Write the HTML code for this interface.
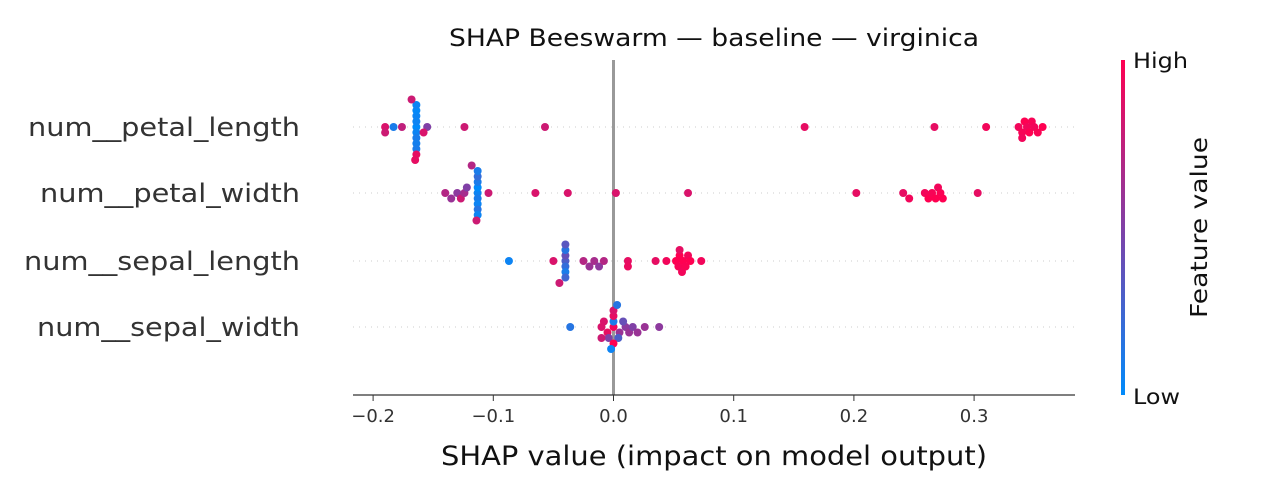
<!DOCTYPE html>
<html><head><meta charset="utf-8"><style>
body{margin:0;background:#fff;font-family:"DejaVu Sans","Liberation Sans",sans-serif}
svg text{font-family:"DejaVu Sans","Liberation Sans",sans-serif}
</style></head><body>
<svg id="c" width="1280" height="496" xmlns="http://www.w3.org/2000/svg">
<defs><linearGradient id="cb" x1="0" y1="1" x2="0" y2="0"><stop offset="0" stop-color="#008bfb"/><stop offset="0.5" stop-color="#8040a6"/><stop offset="1" stop-color="#ff0051"/></linearGradient></defs>
<text x="449" y="46" font-size="24" textLength="530" lengthAdjust="spacingAndGlyphs" fill="#111">SHAP Beeswarm — baseline — virginica</text>
<g id="grid"></g>
<line x1="613.5" y1="60" x2="613.5" y2="395" stroke="#999" stroke-width="3"/>
<g id="dots"></g>
<line x1="353" y1="395" x2="1075" y2="395" stroke="#333" stroke-width="1.2"/>
<g id="xt"></g>
<text x="441" y="465" font-size="27" textLength="546" lengthAdjust="spacingAndGlyphs" fill="#111">SHAP value (impact on model output)</text>
<rect x="1121" y="60" width="4" height="335" fill="url(#cb)"/>
<text x="1133" y="68" font-size="21" textLength="55" lengthAdjust="spacingAndGlyphs" fill="#111">High</text>
<text x="1133" y="404" font-size="21" textLength="47" lengthAdjust="spacingAndGlyphs" fill="#111">Low</text>
<text transform="translate(1207,318) rotate(-90)" font-size="23" textLength="181" lengthAdjust="spacingAndGlyphs" fill="#111">Feature value</text>
</svg>
<script>
const features=["num__petal_length","num__petal_width","num__sepal_length","num__sepal_width"];
const labelWidths=[272,260,276,263];
const xTicks=[-0.2,-0.1,0.0,0.1,0.2,0.3];
const xTickLabels=["\u22120.2","\u22120.1","0.0","0.1","0.2","0.3"];
const shapPL=[-0.164,-0.164,-0.164,-0.164,-0.164,-0.164,-0.164,-0.164,-0.164,-0.164,-0.19,-0.19,-0.183,-0.176,-0.168,-0.165,-0.155,-0.158,-0.124,-0.057,0.159,0.267,0.31,0.337,0.34,0.342,0.344,0.346,0.348,0.35,0.353,0.357,0.34];
const featPL=[0,0.05,0.05,0.1,0.05,0.08,0.02,0.1,0.05,0.9,0.85,0.8,0.1,0.75,0.8,0.9,0.5,0.85,0.8,0.8,0.9,0.9,0.95,0.95,0.97,1,0.95,1,0.97,0.95,0.98,1,0.95];
const shapPW=[-0.113,-0.113,-0.113,-0.113,-0.113,-0.113,-0.113,-0.113,-0.113,-0.114,-0.14,-0.135,-0.13,-0.127,-0.124,-0.122,-0.118,-0.104,-0.065,-0.038,0.002,0.062,0.202,0.241,0.246,0.259,0.262,0.265,0.268,0.27,0.272,0.274,0.303];
const featPW=[0.05,0.1,0,0.05,0.1,0.15,0.2,0.05,0.1,0.8,0.7,0.6,0.55,0.8,0.65,0.5,0.7,0.8,0.85,0.85,0.85,0.85,0.9,0.9,0.95,0.95,1,0.97,1,0.95,0.98,1,0.9];
const shapSL=[-0.087,-0.040,-0.040,-0.040,-0.040,-0.040,-0.040,-0.040,-0.050,-0.045,-0.025,-0.02,-0.016,-0.012,-0.008,0.012,0.012,0.035,0.044,0.052,0.054,0.055,0.057,0.058,0.06,0.062,0.064,0.055,0.073];
const featSL=[0.05,0.3,0.2,0.4,0.1,0.15,0.25,0.35,0.85,0.8,0.7,0.6,0.65,0.55,0.7,0.9,0.92,0.9,0.95,1,0.97,1,0.95,1,0.98,0.95,1,0.9,0.95];
const shapSW=[-0.036,0.0,-0.01,-0.005,0.0,0.005,0.01,0.013,0.016,0.02,-0.008,-0.004,0.004,0.008,0.026,0.038,0.0,-0.01,0.0,0.0,-0.002,0.003];
const featSW=[0.15,0.95,0.85,0.9,0.1,0.6,0.55,0.6,0.5,0.6,0.85,0.5,0.3,0.4,0.6,0.55,0.9,0.8,1,0.85,0.05,0.15];
const shapSets=[shapPL,shapPW,shapSL,shapSW];
const featSets=[featPL,featPW,featSL,featSW];
const rowY=[127,193,261,327];
const NS="http://www.w3.org/2000/svg";
function xs(v){return 613.5+v*1202;}
function col(t){const a=[0,139,251],m=[128,64,166],b=[255,0,81];let c;if(t<0.5){const u=t*2;c=a.map((x,i)=>x+(m[i]-x)*u);}else{const u=(t-0.5)*2;c=m.map((x,i)=>x+(b[i]-x)*u);}return "rgb("+c.map(Math.round).join(",")+")";}
const svg=document.getElementById("c");
const grid=document.getElementById("grid"),dots=document.getElementById("dots"),xt=document.getElementById("xt");
features.forEach((f,i)=>{
  const y=rowY[i];
  const l=document.createElementNS(NS,"line");
  l.setAttribute("x1",353);l.setAttribute("x2",1075);l.setAttribute("y1",y);l.setAttribute("y2",y);
  l.setAttribute("stroke","#ccc");l.setAttribute("stroke-dasharray","1,5");
  
  
  grid.appendChild(l);
  const t=document.createElementNS(NS,"text");
  t.setAttribute("x",300-labelWidths[i]);t.setAttribute("y",y+9);t.setAttribute("font-size","26");t.setAttribute("fill","#333");
  t.setAttribute("textLength",labelWidths[i]);t.setAttribute("lengthAdjust","spacingAndGlyphs");
  t.textContent=f;
  
  
  svg.appendChild(t);
  const vals=shapSets[i],fv=featSets[i];
  const placed=[];
  vals.forEach((v,k)=>{
    const px=xs(v);
    let off=0;
    for(let s=0;s<40;s++){const o=s===0?0:(s%2? (s+1)/2 : -s/2);
      if(!placed.some(p=>Math.abs(p.x-px)<6.5&&p.o===o)){off=o;break;}}
    placed.push({x:px,o:off});
    const c=document.createElementNS(NS,"circle");
    c.setAttribute("cx",px);c.setAttribute("cy",y+off*5.5);c.setAttribute("r",4);c.setAttribute("fill",col(fv[k]));
    
    
    dots.appendChild(c);
  });
});
xTicks.forEach((v,i)=>{
  const x=xs(v);
  const l=document.createElementNS(NS,"line");
  l.setAttribute("x1",x);l.setAttribute("x2",x);l.setAttribute("y1",395);l.setAttribute("y2",401);l.setAttribute("stroke","#333");
  
  
  xt.appendChild(l);
  const t=document.createElementNS(NS,"text");
  t.setAttribute("x",x);t.setAttribute("y",422);t.setAttribute("text-anchor","middle");t.setAttribute("font-size","18");t.setAttribute("fill","#333");
  t.textContent=xTickLabels[i];
  
  
  xt.appendChild(t);
});
</script>
</body></html>
